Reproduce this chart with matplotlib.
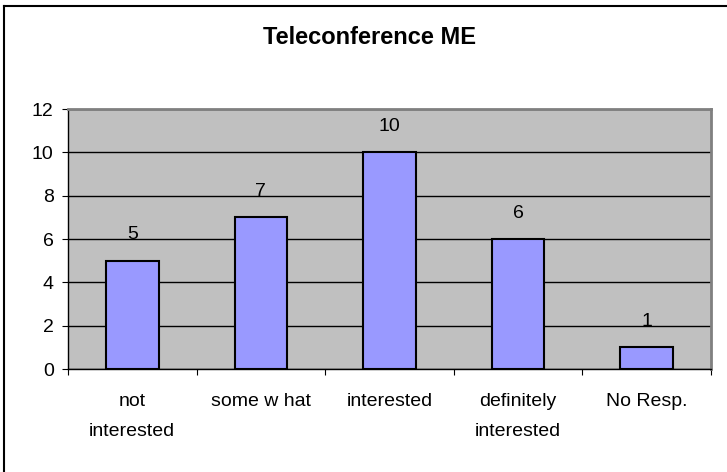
import matplotlib
matplotlib.use("Agg")
import matplotlib.pyplot as plt
from matplotlib.lines import Line2D
import numpy as np

categories = ["not\ninterested", "some w hat", "interested", "definitely\ninterested", "No Resp."]
values = [5, 7, 10, 6, 1]
yticks = [0, 2, 4, 6, 8, 10, 12]

plt.rcParams['font.family'] = ['Liberation Sans', 'DejaVu Sans']

W, H = 727, 472
fig = plt.figure(figsize=(W / 100, H / 100), dpi=100)
fig.patch.set_facecolor('white')

# outer chart border (only top and left visible)
fig.add_artist(Line2D([4 / W, 4 / W], [0, 1 - 6 / H], color='black', lw=1.5, transform=fig.transFigure))
fig.add_artist(Line2D([4 / W, 1], [1 - 6 / H, 1 - 6 / H], color='black', lw=1.5, transform=fig.transFigure))

left, right, top, bottom = 68, 711, 109, 369
ax = fig.add_axes([left / W, (H - bottom) / H, (right - left) / W, (bottom - top) / H])
ax.set_facecolor('#C0C0C0')

x = np.arange(len(values))
ax.bar(x, values, width=0.41, color='#9999FF', edgecolor='black', linewidth=1.5, zorder=3)
for xi, v in zip(x, values):
    ax.annotate(str(v), (xi, v), xytext=(0, 18.5), textcoords='offset points',
                ha='center', va='center', fontsize=14, zorder=4)

ax.set_xlim(-0.5, len(values) - 0.5)
ax.set_ylim(0, 12)
ax.set_yticks(yticks)
ax.set_yticklabels([str(t) for t in yticks])
ax.yaxis.grid(True, color='black', linewidth=1)
ax.set_axisbelow(True)

ax.set_xticks(np.arange(len(values) + 1) - 0.5)
ax.set_xticklabels([])
ax.set_xticks(x, minor=True)
ax.set_xticklabels(categories, minor=True, fontsize=14, linespacing=1.95)
ax.tick_params(axis='x', which='minor', length=0, pad=17.5)
ax.tick_params(axis='x', which='major', length=4.3, direction='out', color='black')
ax.tick_params(axis='y', length=4.3, direction='out', labelsize=14, pad=6, color='black')

for s in ['top', 'right']:
    ax.spines[s].set_color('#808080')
    ax.spines[s].set_linewidth(2)
for s in ['left', 'bottom']:
    ax.spines[s].set_color('black')
    ax.spines[s].set_linewidth(1)

fig.text(370 / W, 1 - 38 / H, "Teleconference ME", ha='center', va='center',
         fontsize=17, fontweight='bold')

fig.savefig("out.png", dpi=100)
